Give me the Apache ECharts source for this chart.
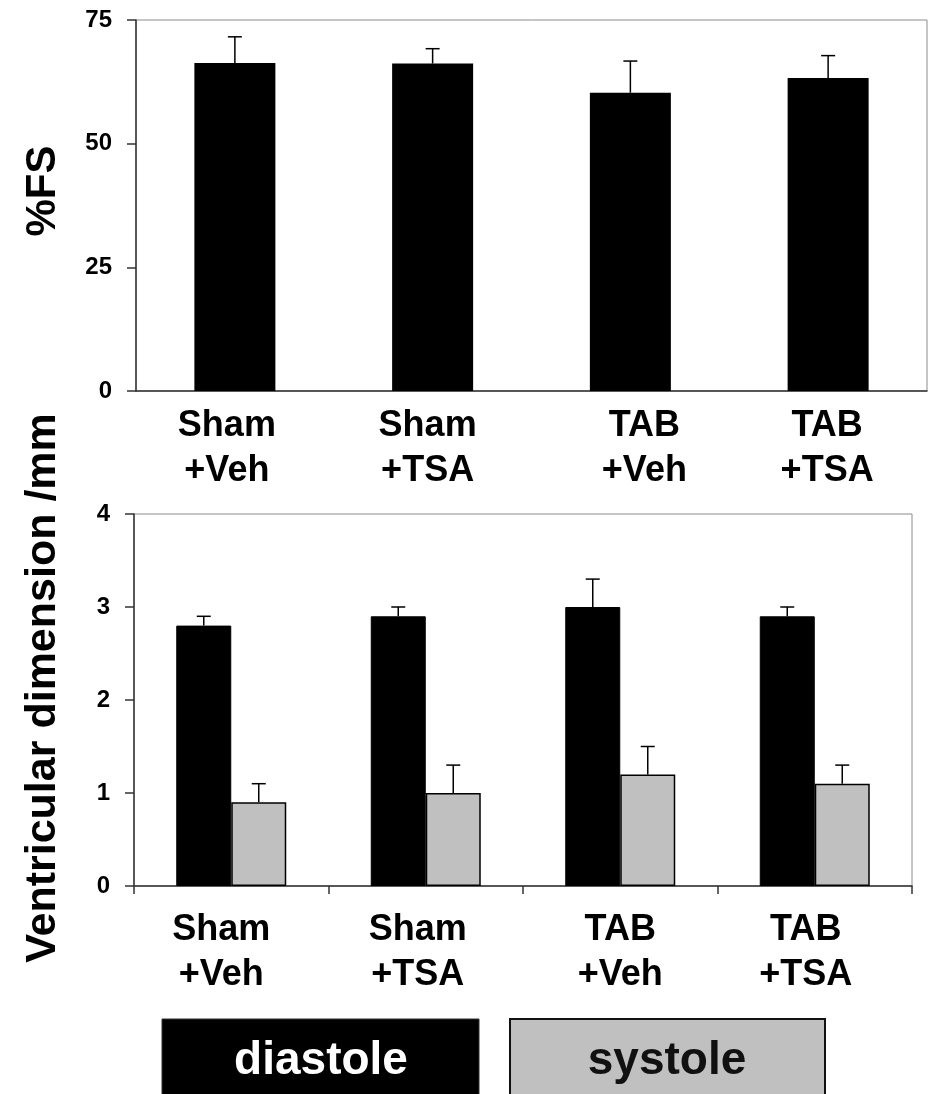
<!DOCTYPE html>
<html><head><meta charset="utf-8">
<script src="https://cdn.jsdelivr.net/npm/echarts@6/dist/echarts.min.js"></script>
<style>html,body{margin:0;padding:0;background:#fff}#c{width:933px;height:1094px}</style>
</head><body><div id="c"></div>
<script>
// ---------- data ----------
const categories = ['Sham\n+Veh', 'Sham\n+TSA', 'TAB\n+Veh', 'TAB\n+TSA'];
const fsTicks = [0, 25, 50, 75];
const fsMean = [66.3, 66.2, 60.3, 63.3];
const fsSem = [5.3, 3.0, 6.4, 4.5];
const dimTicks = [0, 1, 2, 3, 4];
const diastoleMean = [2.8, 2.9, 3.0, 2.9];
const diastoleSem = [0.1, 0.1, 0.3, 0.1];
const systoleMean = [0.9, 1.0, 1.2, 1.1];
const systoleSem = [0.2, 0.3, 0.3, 0.2];
const legendNames = ['diastole', 'systole'];
const fsTitle = '%FS';
const dimTitle = 'Ventricular dimension /mm';

// ---------- styles ----------
const FONT = '"Liberation Sans", Arial, Helvetica, sans-serif';
const topShift = [-8, -5, 14, -1];
const bottomShift = [-10, -8, 0, -9];

function catData(shifts) {
  return categories.map((c, i) => {
    const s = shifts[i];
    return { value: c, textStyle: { padding: s < 0 ? [0, -2 * s, 0, 0] : [0, 0, 0, 2 * s] } };
  });
}

function errorSeries(xi, yi, means, sems, offset, name) {
  return {
    type: 'custom', name: name, xAxisIndex: xi, yAxisIndex: yi, z: 10, silent: true,
    data: means.map((m, i) => [i, m, m + sems[i]]),
    renderItem: function (params, api) {
      const p0 = api.coord([api.value(0), api.value(1)]);
      const p1 = api.coord([api.value(0), api.value(2)]);
      const x = p0[0] + offset;
      const cap = 7;
      return {
        type: 'group', children: [
          { type: 'line', shape: { x1: x, y1: p0[1], x2: x, y2: p1[1] }, style: { stroke: '#000', lineWidth: 1.5 } },
          { type: 'line', shape: { x1: x - cap, y1: p1[1], x2: x + cap, y2: p1[1] }, style: { stroke: '#000', lineWidth: 1.5 } }
        ]
      };
    }
  };
}

const axisLineStyle = { color: '#333', width: 1.5 };
const yLabel = { fontFamily: FONT, fontWeight: 'bold', fontSize: 24, color: '#000', margin: 24 };
const xLabel = { fontFamily: FONT, fontWeight: 'bold', fontSize: 36, color: '#000', lineHeight: 45, interval: 0 };

const chart = echarts.init(document.getElementById('c'), null, { renderer: 'canvas' });
const option = {
  animation: false,
  backgroundColor: '#fff',
  grid: [
    { left: 136, top: 20, width: 791, height: 371, show: true, borderColor: '#8c8c8c', borderWidth: 1 },
    { left: 134, top: 514, width: 778, height: 372, show: true, borderColor: '#8c8c8c', borderWidth: 1 }
  ],
  xAxis: [
    {
      type: 'category', gridIndex: 0, data: catData(topShift),
      axisLine: { show: true, lineStyle: axisLineStyle },
      axisTick: { show: false },
      axisLabel: Object.assign({ margin: 13 }, xLabel)
    },
    {
      type: 'category', gridIndex: 1, data: catData(bottomShift),
      axisLine: { show: true, lineStyle: axisLineStyle },
      axisTick: { show: true, length: 8, lineStyle: axisLineStyle },
      axisLabel: Object.assign({ margin: 22 }, xLabel)
    }
  ],
  yAxis: [
    {
      type: 'value', gridIndex: 0, min: fsTicks[0], max: fsTicks[fsTicks.length - 1], interval: fsTicks[1] - fsTicks[0],
      axisLine: { show: true, lineStyle: axisLineStyle },
      axisTick: { show: true, length: 9, lineStyle: axisLineStyle },
      splitLine: { show: false },
      axisLabel: yLabel
    },
    {
      type: 'value', gridIndex: 1, min: dimTicks[0], max: dimTicks[dimTicks.length - 1], interval: dimTicks[1] - dimTicks[0],
      axisLine: { show: true, lineStyle: axisLineStyle },
      axisTick: { show: true, length: 9, lineStyle: axisLineStyle },
      splitLine: { show: false },
      axisLabel: yLabel
    }
  ],
  series: [
    {
      type: 'bar', name: fsTitle, xAxisIndex: 0, yAxisIndex: 0, data: fsMean, barWidth: 81,
      itemStyle: { color: '#000' }
    },
    errorSeries(0, 0, fsMean, fsSem, 0, fsTitle + ' error'),
    {
      type: 'bar', name: legendNames[0], xAxisIndex: 1, yAxisIndex: 1, data: diastoleMean, barWidth: 55, barGap: '0%',
      itemStyle: { color: '#000', borderColor: '#000', borderWidth: 1 }
    },
    {
      type: 'bar', name: legendNames[1], xAxisIndex: 1, yAxisIndex: 1, data: systoleMean, barWidth: 55, barGap: '0%',
      itemStyle: { color: '#c0c0c0', borderColor: '#000', borderWidth: 1.5 }
    },
    errorSeries(1, 1, diastoleMean, diastoleSem, -27.5, legendNames[0] + ' error'),
    errorSeries(1, 1, systoleMean, systoleSem, 27.5, legendNames[1] + ' error')
  ],
  graphic: [
    {
      type: 'text', x: 43, y: 191, rotation: Math.PI / 2,
      style: { text: fsTitle, fontFamily: FONT, fontWeight: 'bold', fontSize: 42, fill: '#000', align: 'center', verticalAlign: 'middle' }
    },
    {
      type: 'text', x: 43, y: 688, rotation: Math.PI / 2,
      style: { text: dimTitle, fontFamily: FONT, fontWeight: 'bold', fontSize: 43, fill: '#000', align: 'center', verticalAlign: 'middle' }
    },
    {
      type: 'rect', shape: { x: 162, y: 1019, width: 317, height: 100 },
      style: { fill: '#000', stroke: '#333', lineWidth: 1 }
    },
    {
      type: 'text', x: 321, y: 1061,
      style: { text: legendNames[0], fontFamily: FONT, fontWeight: 'bold', fontSize: 46, fill: '#fff', align: 'center', verticalAlign: 'middle' }
    },
    {
      type: 'rect', shape: { x: 510, y: 1019, width: 315, height: 100 },
      style: { fill: '#c0c0c0', stroke: '#111', lineWidth: 2 }
    },
    {
      type: 'text', x: 667, y: 1061,
      style: { text: legendNames[1], fontFamily: FONT, fontWeight: 'bold', fontSize: 46, fill: '#111', align: 'center', verticalAlign: 'middle' }
    }
  ]
};
chart.setOption(option);
</script>
</body></html>
